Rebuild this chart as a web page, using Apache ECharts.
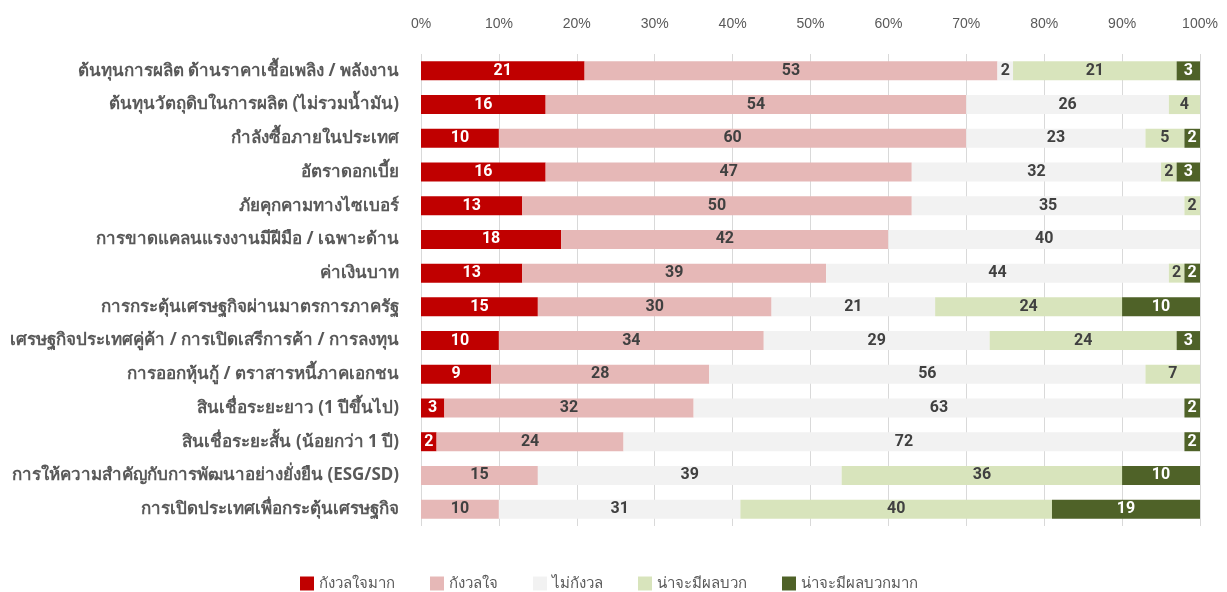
<!DOCTYPE html>
<html><head><meta charset="utf-8">
<script src="https://cdn.jsdelivr.net/npm/echarts@6/dist/echarts.min.js"></script>
<style>html,body{margin:0;padding:0;background:#fff}#c{width:1227px;height:592px}</style>
</head><body><div id="c"></div>
<script>
const categories = [
 'ต้นทุนการผลิต ด้านราคาเชื้อเพลิง / พลังงาน',
 'ต้นทุนวัตถุดิบในการผลิต (ไม่รวมน้ำมัน)',
 'กำลังซื้อภายในประเทศ',
 'อัตราดอกเบี้ย',
 'ภัยคุกคามทางไซเบอร์',
 'การขาดแคลนแรงงานมีฝีมือ / เฉพาะด้าน',
 'ค่าเงินบาท',
 'การกระตุ้นเศรษฐกิจผ่านมาตรการภาครัฐ',
 'เศรษฐกิจประเทศคู่ค้า / การเปิดเสรีการค้า / การลงทุน',
 'การออกหุ้นกู้ / ตราสารหนี้ภาคเอกชน',
 'สินเชื่อระยะยาว (1 ปีขึ้นไป)',
 'สินเชื่อระยะสั้น (น้อยกว่า 1 ปี)',
 'การให้ความสำคัญกับการพัฒนาอย่างยั่งยืน (ESG/SD)',
 'การเปิดประเทศเพื่อกระตุ้นเศรษฐกิจ'
];
const seriesNames = ['กังวลใจมาก','กังวลใจ','ไม่กังวล','น่าจะมีผลบวก','น่าจะมีผลบวกมาก'];
const veryWorried   = [21,16,10,16,13,18,13,15,10, 9, 3, 2, 0, 0];
const worried       = [53,54,60,47,50,42,39,30,34,28,32,24,15,10];
const notWorried    = [ 2,26,23,32,35,40,44,21,29,56,63,72,39,31];
const positive      = [21, 4, 5, 2, 2, 0, 2,24,24, 7, 0, 0,36,40];
const veryPositive  = [ 3, 0, 2, 3, 0, 0, 2,10, 3, 0, 2, 2,10,19];
const tickLabels = ['0%','10%','20%','30%','40%','50%','60%','70%','80%','90%','100%'];

const values = [veryWorried, worried, notWorried, positive, veryPositive];
const colors = ['#C00000','#E6B8B7','#F2F2F2','#D8E4BC','#4F6228'];
const labelColors = ['#ffffff','#404040','#404040','#404040','#ffffff'];

const chart = echarts.init(document.getElementById('c'));
chart.setOption({
  animation:false,
  grid:{left:421,right:27,top:54,bottom:66,containLabel:false},
  xAxis:{type:'value',position:'top',min:0,max:100,interval:10,
    axisLine:{show:false},axisTick:{show:false},
    axisLabel:{margin:23,color:'#595959',fontSize:14,fontFamily:'Arial, Liberation Sans, sans-serif',
      formatter:function(v){return tickLabels[Math.round(v/10)];}},
    splitLine:{lineStyle:{color:'#D9D9D9',width:1}}},
  yAxis:{type:'category',inverse:true,data:categories,
    axisLabel:{margin:22,color:'#595959',fontSize:17,fontWeight:'bold',fontFamily:'Tahoma, Noto Sans, sans-serif'},
    axisLine:{show:false},axisTick:{show:false}},
  legend:{bottom:-4,left:295,itemWidth:14,itemHeight:14,itemGap:35,icon:'rect',
    textStyle:{color:'#595959',fontSize:15,fontFamily:'Tahoma, Noto Sans, sans-serif'},
    data:seriesNames},
  series: seriesNames.map(function(n,i){return {
    name:n,type:'bar',stack:'total',barWidth:19,
    itemStyle:{color:colors[i]},
    label:{show:true,position:'inside',color:labelColors[i],fontSize:16,fontWeight:'bold',
      fontFamily:'Liberation Sans Narrow, Roboto, sans-serif',
      formatter:function(p){return p.value>0?String(p.value):'';}},
    data:values[i]
  };})
});
</script></body></html>
